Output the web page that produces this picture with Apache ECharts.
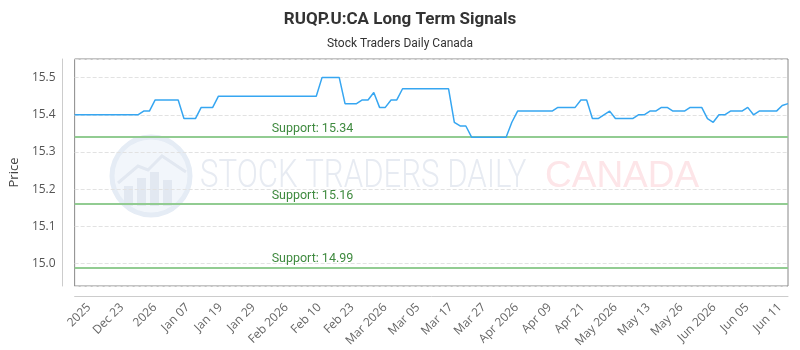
<!DOCTYPE html>
<html>
<head>
<meta charset="utf-8">
<title>RUQP.U:CA Long Term Signals</title>
<script src="https://cdn.jsdelivr.net/npm/echarts@6/dist/echarts.min.js"></script>
<style>
  html, body { margin: 0; padding: 0; background: #fff; }
  #chart { width: 800px; height: 350px; }
</style>
</head>
<body>
<div id="chart"></div>
<script>
  // one closing price per session
  var prices = [
    15.40, 15.40, 15.40, 15.40, 15.40, 15.40, 15.40, 15.40, 15.40, 15.40, 15.40, 15.40,
    15.41, 15.41,
    15.44, 15.44, 15.44, 15.44, 15.44,
    15.39, 15.39, 15.39,
    15.42, 15.42, 15.42,
    15.45, 15.45, 15.45, 15.45, 15.45, 15.45, 15.45, 15.45, 15.45,
    15.45, 15.45, 15.45, 15.45, 15.45, 15.45, 15.45, 15.45, 15.45,
    15.50, 15.50, 15.50, 15.50,
    15.43, 15.43, 15.43,
    15.44, 15.44,
    15.46,
    15.42, 15.42,
    15.44, 15.44,
    15.47, 15.47, 15.47, 15.47, 15.47, 15.47, 15.47, 15.47, 15.47,
    15.38,
    15.37, 15.37,
    15.34, 15.34, 15.34, 15.34, 15.34, 15.34, 15.34,
    15.38,
    15.41, 15.41, 15.41, 15.41, 15.41, 15.41, 15.41,
    15.42, 15.42, 15.42, 15.42,
    15.44, 15.44,
    15.39, 15.39,
    15.40,
    15.41,
    15.39, 15.39, 15.39, 15.39,
    15.40, 15.40,
    15.41, 15.41,
    15.42, 15.42,
    15.41, 15.41, 15.41,
    15.42, 15.42, 15.42,
    15.39,
    15.38,
    15.40, 15.40,
    15.41, 15.41, 15.41,
    15.42,
    15.40,
    15.41, 15.41, 15.41, 15.41,
    15.425,
    15.43
  ];
  var supports = [15.34, 15.16, 14.99];
  var tickLabels = ['2025', 'Dec 23', '2026', 'Jan 07', 'Jan 19', 'Jan 29', 'Feb 2026', 'Feb 10',
    'Feb 23', 'Mar 2026', 'Mar 05', 'Mar 17', 'Mar 27', 'Apr 2026', 'Apr 09', 'Apr 21',
    'May 2026', 'May 13', 'May 26', 'Jun 2026', 'Jun 05', 'Jun 11'];
  var yMin = 14.94;
  var yMax = 15.55;

  var sessions = prices.map(function (p, i) { return String(i); });

  var chart = echarts.init(document.getElementById('chart'));
  chart.setOption({
    animation: false,
    title: [{
      text: 'RUQP.U:CA Long Term Signals',
      left: 'center',
      top: 6,
      textStyle: { fontFamily: 'Roboto', fontSize: 17, fontWeight: 'bold', color: '#333' }
    }, {
      text: 'Stock Traders Daily Canada',
      left: 'center',
      top: 33,
      textStyle: { fontFamily: 'Roboto', fontSize: 12, fontWeight: 'normal', color: '#333' }
    }],
    // faint watermark behind the plot
    graphic: [{
      type: 'group',
      silent: true,
      z: -10,
      children: [
        { type: 'circle', shape: { cx: 151, cy: 176, r: 39 }, style: { fill: 'rgba(236,242,250,0.7)', stroke: '#e5ecf5', lineWidth: 5 } },
        { type: 'rect', shape: { x: 124, y: 186, width: 9, height: 20 }, style: { fill: '#e2e8f1' } },
        { type: 'rect', shape: { x: 137, y: 178, width: 9, height: 28 }, style: { fill: '#e2e8f1' } },
        { type: 'rect', shape: { x: 150, y: 172, width: 9, height: 34 }, style: { fill: '#e2e8f1' } },
        { type: 'rect', shape: { x: 163, y: 180, width: 9, height: 26 }, style: { fill: '#e2e8f1' } },
        { type: 'polyline', shape: { points: [[118, 183], [138, 166], [148, 170], [162, 156], [186, 172]] }, style: { stroke: '#e2e8f1', lineWidth: 3, fill: null } },
        { type: 'text', x: 200, y: 177, scaleX: 0.82, style: { text: 'STOCK TRADERS DAILY', fill: '#e7ebf2', font: '300 38px Roboto', textVerticalAlign: 'middle' } },
        { type: 'text', x: 545, y: 177, style: { text: 'CANADA', fill: '#fde5e8', font: '37px "Liberation Sans"', textVerticalAlign: 'middle' } }
      ]
    }],
    grid: [
      { left: 72, right: 12, top: 59, bottom: 64, show: true, borderColor: '#888', borderWidth: 1 },
      { left: 89, right: 20, top: 59, bottom: 64 }
    ],
    xAxis: [{
      gridIndex: 0,
      type: 'category',
      data: sessions,
      boundaryGap: false,
      offset: 10,
      axisLine: { lineStyle: { color: '#ccc' } },
      axisTick: { show: false },
      axisLabel: { show: false },
      splitLine: { show: false }
    }, {
      gridIndex: 1,
      type: 'category',
      data: tickLabels,
      boundaryGap: false,
      offset: 10,
      axisLine: { show: false },
      axisTick: { show: false },
      axisLabel: { interval: 0, rotate: 45, margin: 10, color: '#666', fontSize: 12, fontFamily: 'Open Sans' },
      splitLine: { show: false }
    }],
    yAxis: [{
      gridIndex: 0,
      type: 'value',
      min: yMin,
      max: yMax,
      offset: 12,
      name: 'Price',
      nameLocation: 'middle',
      nameGap: 38,
      nameTextStyle: { color: '#444', fontSize: 13, fontFamily: 'Open Sans' },
      axisLine: { show: true, lineStyle: { color: '#ccc' } },
      axisTick: { show: false },
      axisLabel: {
        margin: 7,
        color: '#555',
        fontSize: 12,
        fontFamily: 'Open Sans',
        showMinLabel: false,
        showMaxLabel: false,
        formatter: function (v) { return v.toFixed(1); }
      },
      splitLine: { lineStyle: { type: 'dashed', color: '#e2e2e2' } }
    }, {
      gridIndex: 1,
      type: 'value',
      show: false
    }],
    series: [{
      name: 'RUQP.U:CA',
      type: 'line',
      xAxisIndex: 0,
      yAxisIndex: 0,
      z: 3,
      data: prices,
      symbol: 'none',
      lineStyle: { color: '#36a6f1', width: 1.5 },
      itemStyle: { color: '#36a6f1' },
      markLine: {
        silent: true,
        z: 1,
        symbol: 'none',
        animation: false,
        lineStyle: { color: '#92cc92', width: 2, type: 'solid' },
        label: {
          position: 'insideStartTop',
          distance: [197, 2],
          color: '#3f8a3f',
          fontSize: 12.5,
          fontFamily: 'Roboto',
          formatter: function (p) { return 'Support: ' + Number(p.value).toFixed(2); }
        },
        data: supports.map(function (v) { return { yAxis: v }; })
      }
    }]
  });
</script>
</body>
</html>
